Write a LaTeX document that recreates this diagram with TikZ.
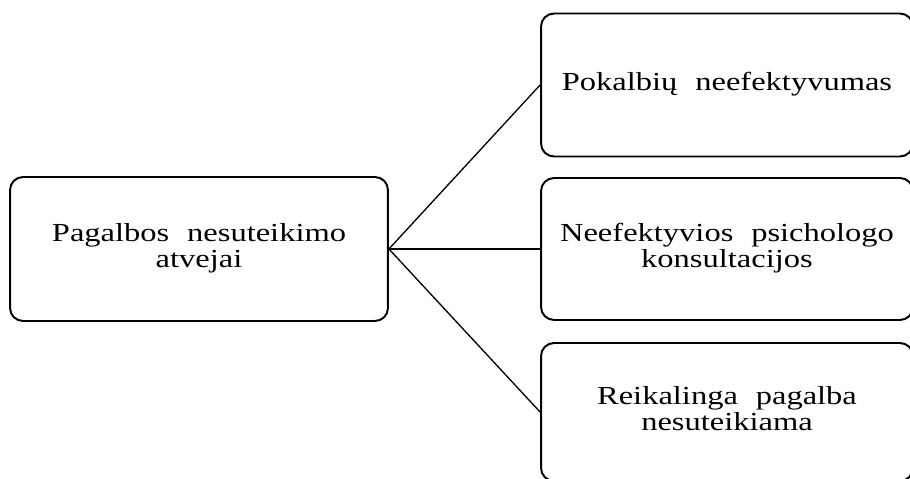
\documentclass[tikz,border=0pt]{standalone}
\usepackage{fontspec}
\setmainfont{Liberation Serif}
\usepackage{graphicx}
\newcommand{\widetext}[1]{\scalebox{1.25}[1]{\begin{tabular}{@{}c@{}}#1\end{tabular}}}
\newcommand{\gap}{\hspace{0.55em}}

\begin{document}
\begin{tikzpicture}[x=0.02cm, y=-0.02cm,
		box/.style={draw, line width=1.1pt, rounded corners=0.26cm, inner sep=0pt,
			font=\fontsize{14.8}{14.8}\selectfont},
		link/.style={line width=0.75pt}]
		\useasboundingbox (0,0) rectangle (910,479);
		\clip (0,0) rectangle (910,479);
		\node[box, minimum width=7.56cm, minimum height=2.88cm] (cases) at (199,249)
			{\widetext{Pagalbos\gap nesuteikimo\\atvejai}};
		\node[box, minimum width=7.44cm, minimum height=2.86cm] (talks) at (727,85)
			{\widetext{Pokalbių\gap neefektyvumas}};
		\node[box, minimum width=7.44cm, minimum height=2.84cm] (consult) at (727,249)
			{\widetext{Neefektyvios\gap psichologo\\konsultacijos}};
		\node[box, minimum width=7.44cm, minimum height=2.76cm] (help) at (727,412)
			{\raisebox{-0.24cm}{\widetext{Reikalinga\gap pagalba\\nesuteikiama}}};
		\draw[link] (cases.east) -- (talks.west);
		\draw[link] (cases.east) -- (consult.west);
		\draw[link] (cases.east) -- (help.west);
	\end{tikzpicture}
\end{document}
